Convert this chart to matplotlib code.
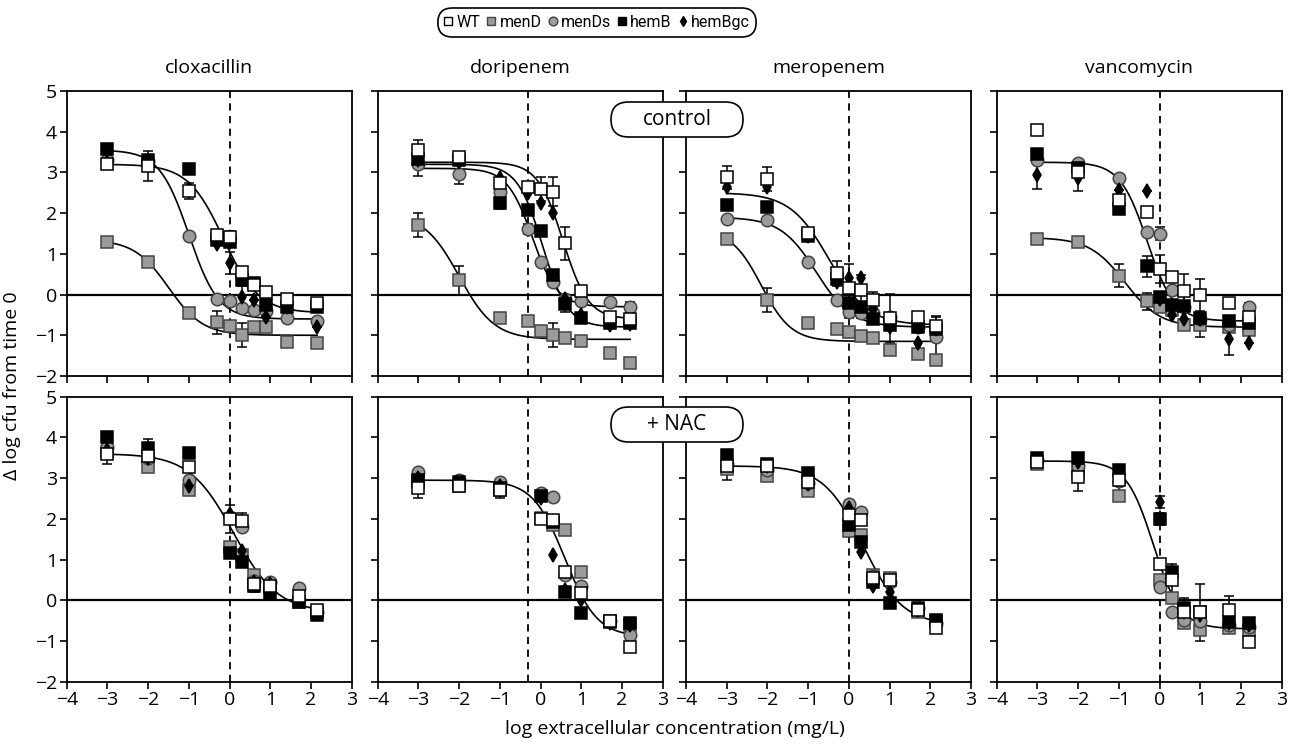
import numpy as np
import matplotlib
matplotlib.use("Agg")
import matplotlib.pyplot as plt
from matplotlib.patches import FancyBboxPatch
from matplotlib.lines import Line2D

plt.rcParams["font.family"] = ["Open Sans", "DejaVu Sans"]
plt.rcParams["axes.unicode_minus"] = True

series = ["WT", "menD", "menDs", "hemB", "hemBgc"]
drugs = ["cloxacillin", "doripenem", "meropenem", "vancomycin"]
mic_line = [0.0, -0.3, 0.0, 0.0]   # dashed vertical line per drug

# ---------------- cloxacillin ----------------
clox_ctrl_x = [-3, -2, -1, -0.3, 0, 0.3, 0.6, 0.9, 1.4, 2.15]
clox_ctrl = {
    "WT":     [3.2, 3.15, 2.55, 1.47, 1.42, 0.55, 0.24, 0.07, -0.1, -0.2],
    "menD":   [1.3, 0.8, -0.46, -0.68, -0.76, -0.99, -0.8, -0.8, -1.16, -1.18],
    "menDs":  [3.3, 3.28, 1.45, -0.1, -0.15, -0.34, -0.38, -0.4, -0.58, -0.66],
    "hemB":   [3.58, 3.31, 3.08, 1.35, 1.3, 0.37, 0.28, -0.25, -0.3, -0.31],
    "hemBgc": [3.25, 3.2, 2.6, 1.25, 0.77, -0.05, -0.13, -0.56, -0.3, -0.79],
}
clox_ctrl_err = {
    "WT":     [0, 0.37, 0.2, 0, 0.15, 0, 0, 0, 0, 0],
    "menD":   [0, 0, 0, 0.28, 0, 0.3, 0, 0, 0, 0],
    "hemBgc": [0, 0, 0, 0, 0.27, 0.25, 0, 0, 0, 0],
}
clox_ctrl_fit = [(3.2, -0.45, -0.15, 1.0), (3.55, -0.6, -1.0, 1.2), (1.35, -1.0, -1.5, 1.03)]

clox_nac_x = [-3, -2, -1, 0, 0.3, 0.6, 1.0, 1.7, 2.15]
clox_nac = {
    "WT":     [3.6, 3.55, 3.28, 2.0, 1.95, 0.4, 0.35, 0.1, -0.25],
    "menD":   [3.65, 3.28, 2.71, 1.3, 1.1, 0.62, 0.3, -0.05, -0.3],
    "menDs":  [3.77, 3.5, 2.95, 2.05, 1.8, 0.48, 0.45, 0.3, -0.3],
    "hemB":   [4.02, 3.75, 3.61, 1.15, 0.95, 0.35, 0.15, -0.05, -0.35],
    "hemBgc": [3.7, 3.5, 2.8, 2.13, 1.2, 0.45, 0.4, 0.0, -0.3],
}
clox_nac_err = {
    "WT":   [0.25, 0.2, 0, 0.35, 0.2, 0.2, 0, 0, 0],
    "hemB": [0.12, 0.2, 0, 0, 0, 0, 0, 0, 0],
}
clox_nac_fit = [(3.6, -0.3, 0.1, 0.8)]

# ---------------- doripenem ----------------
dori_ctrl_x = [-3, -2, -1, -0.3, 0, 0.3, 0.6, 1.0, 1.7, 2.2]
dori_ctrl = {
    "WT":     [3.55, 3.37, 2.74, 2.64, 2.6, 2.53, 1.26, 0.1, -0.56, -0.6],
    "menD":   [1.71, 0.35, -0.58, -0.64, -0.89, -0.99, -1.07, -1.13, -1.44, -1.69],
    "menDs":  [3.21, 2.96, 2.51, 1.61, 0.81, 0.32, -0.12, -0.15, -0.19, -0.31],
    "hemB":   [3.33, 3.3, 2.26, 2.08, 1.57, 0.48, -0.23, -0.58, -0.7, -0.7],
    "hemBgc": [3.3, 3.25, 2.86, 2.49, 2.25, 2.0, -0.1, -0.5, -0.74, -0.72],
}
dori_ctrl_err = {
    "WT":    [0.25, 0.08, 0, 0, 0.3, 0.35, 0.4, 0, 0, 0.15],
    "menD":  [0.3, 0.35, 0, 0.1, 0, 0.3, 0, 0, 0.1, 0],
    "menDs": [0.3, 0.25, 0, 0.12, 0, 0, 0, 0, 0, 0.12],
    "hemB":  [0, 0, 0.15, 0, 0, 0, 0.2, 0.12, 0.1, 0.1],
}
dori_ctrl_fit = [(3.25, -0.6, 0.55, 1.4), (3.1, -0.3, -0.2, 1.4), (3.2, -0.8, 0.05, 1.4),
                 (2.0, -1.1, -2.0, 1.0)]

dori_nac_x = [-3, -2, -1, 0, 0.3, 0.6, 1.0, 1.7, 2.2]
dori_nac = {
    "WT":     [2.75, 2.8, 2.7, 2.0, 1.97, 0.7, 0.17, -0.5, -1.14],
    "menD":   [2.9, 2.8, 2.7, 2.01, 1.85, 1.72, 0.7, -0.5, -0.6],
    "menDs":  [3.16, 2.95, 2.91, 2.63, 2.53, 0.62, 0.35, -0.5, -0.85],
    "hemB":   [2.95, 2.9, 2.75, 2.55, 1.93, 0.2, -0.32, -0.53, -0.57],
    "hemBgc": [3.0, 2.85, 2.8, 2.5, 1.11, 0.25, 0.0, -0.55, -0.6],
}
dori_nac_err = {
    "WT": [0.25, 0.12, 0.18, 0, 0.1, 0.1, 0.15, 0.1, 0.1],
}
dori_nac_fit = [(2.95, -0.9, 0.6, 1.1)]

# ---------------- meropenem ----------------
mero_ctrl_x = [-3, -2, -1, -0.3, 0, 0.3, 0.6, 1.0, 1.7, 2.15]
mero_ctrl = {
    "WT":     [2.88, 2.84, 1.51, 0.52, 0.16, 0.12, -0.13, -0.58, -0.56, -0.77],
    "menD":   [1.37, -0.13, -0.7, -0.85, -0.91, -1.01, -1.07, -1.36, -1.46, -1.6],
    "menDs":  [1.86, 1.84, 0.79, -0.13, -0.42, -0.46, -0.46, -0.55, -0.79, -1.05],
    "hemB":   [2.19, 2.16, 1.45, 0.38, -0.2, -0.3, -0.6, -0.75, -0.8, -0.85],
    "hemBgc": [2.65, 2.65, 1.45, 0.3, 0.4, 0.4, -0.35, -0.8, -1.18, -0.85],
}
mero_ctrl_err = {
    "WT":    [0.28, 0.3, 0.08, 0.3, 0.6, 0.35, 0.2, 0.6, 0.1, 0.25],
    "menD":  [0, 0.3, 0, 0, 0, 0, 0, 0, 0, 0],
    "menDs": [0, 0, 0.1, 0, 0.15, 0.12, 0, 0, 0, 0.5],
}
mero_ctrl_fit = [(2.5, -0.75, -0.49, 0.91), (1.9, -0.8, -0.8, 0.99), (1.6, -1.15, -2.15, 1.18)]

mero_nac_x = [-3, -2, -1, 0, 0.3, 0.6, 1.0, 1.7, 2.15]
mero_nac = {
    "WT":     [3.3, 3.3, 2.9, 2.1, 1.97, 0.55, 0.5, -0.25, -0.68],
    "menD":   [3.22, 3.06, 2.69, 1.71, 1.6, 0.62, 0.54, -0.3, -0.5],
    "menDs":  [3.35, 3.2, 2.87, 2.36, 2.16, 0.6, 0.45, -0.2, -0.55],
    "hemB":   [3.57, 3.34, 3.12, 1.85, 1.42, 0.45, -0.07, -0.2, -0.49],
    "hemBgc": [3.4, 3.3, 2.85, 2.26, 1.19, 0.35, 0.2, -0.25, -0.55],
}
mero_nac_err = {
    "WT": [0.35, 0.1, 0.1, 0.1, 0.08, 0.15, 0.1, 0.15, 0.1],
}
mero_nac_fit = [(3.3, -0.6, 0.35, 0.9)]

# ---------------- vancomycin ----------------
vanc_ctrl_x = [-3, -2, -1, -0.3, 0, 0.3, 0.6, 1.0, 1.7, 2.2]
vanc_ctrl = {
    "WT":     [4.03, 3.02, 2.33, 2.02, 0.63, 0.42, 0.1, -0.01, -0.2, -0.54],
    "menD":   [1.36, 1.29, 0.46, -0.17, -0.3, -0.38, -0.74, -0.75, -0.8, -0.87],
    "menDs":  [3.31, 3.23, 2.86, 1.53, 1.5, 0.12, -0.3, -0.6, -0.75, -0.31],
    "hemB":   [3.45, 3.1, 2.1, 0.69, -0.05, -0.25, -0.29, -0.58, -0.66, -0.7],
    "hemBgc": [2.94, 2.86, 2.57, 2.55, -0.1, -0.5, -0.6, -0.6, -1.09, -1.19],
}
vanc_ctrl_err = {
    "WT":     [0, 0, 0, 0.1, 0.35, 0, 0.4, 0.4, 0.1, 0.1],
    "menD":   [0, 0, 0.28, 0.2, 0, 0.15, 0, 0.3, 0, 0],
    "menDs":  [0, 0, 0, 0, 0.15, 0, 0, 0, 0, 0.1],
    "hemB":   [0, 0, 0, 0.25, 0, 0, 0.3, 0, 0, 0],
    "hemBgc": [0.35, 0.32, 0, 0, 0, 0, 0, 0, 0.4, 0],
}
vanc_ctrl_fit = [(3.25, -0.65, -0.3, 1.3), (1.4, -0.8, -0.85, 1.0)]

vanc_nac_x = [-3, -2, -1, 0, 0.3, 0.6, 1.0, 1.7, 2.2]
vanc_nac = {
    "WT":     [3.4, 3.04, 2.95, 0.9, 0.5, -0.3, -0.3, -0.24, -1.02],
    "menD":   [3.35, 3.16, 2.57, 0.5, 0.05, -0.57, -0.73, -0.69, -0.73],
    "menDs":  [3.45, 3.3, 2.94, 0.33, -0.28, -0.49, -0.5, -0.6, -0.65],
    "hemB":   [3.5, 3.49, 3.2, 1.99, 0.7, -0.19, -0.28, -0.53, -0.57],
    "hemBgc": [3.45, 3.4, 3.0, 2.42, 0.5, -0.3, -0.35, -0.55, -0.6],
}
vanc_nac_err = {
    "WT":     [0.1, 0.35, 0.3, 0, 0.4, 0.35, 0.7, 0.35, 0.1],
    "hemB":   [0, 0, 0, 0.15, 0, 0, 0, 0, 0],
    "hemBgc": [0, 0, 0, 0.15, 0, 0, 0, 0, 0],
}
vanc_nac_fit = [(3.42, -0.7, -0.15, 1.3)]

rows = [
    [(clox_ctrl_x, clox_ctrl, clox_ctrl_err, clox_ctrl_fit),
     (dori_ctrl_x, dori_ctrl, dori_ctrl_err, dori_ctrl_fit),
     (mero_ctrl_x, mero_ctrl, mero_ctrl_err, mero_ctrl_fit),
     (vanc_ctrl_x, vanc_ctrl, vanc_ctrl_err, vanc_ctrl_fit)],
    [(clox_nac_x, clox_nac, clox_nac_err, clox_nac_fit),
     (dori_nac_x, dori_nac, dori_nac_err, dori_nac_fit),
     (mero_nac_x, mero_nac, mero_nac_err, mero_nac_fit),
     (vanc_nac_x, vanc_nac, vanc_nac_err, vanc_nac_fit)],
]

GREY = "#9b9b9b"
styles = {
    "WT":     dict(marker="s", mfc="white", mec="black", ms=8.5),
    "menD":   dict(marker="s", mfc=GREY, mec="#444444", ms=8.5),
    "menDs":  dict(marker="o", mfc=GREY, mec="#444444", ms=9),
    "hemB":   dict(marker="s", mfc="black", mec="black", ms=8.5),
    "hemBgc": dict(marker="d", mfc="black", mec="black", ms=7.5),
}
draw_order = ["menD", "menDs", "hemB", "hemBgc", "WT"]


def hill(x, top, bottom, logec50, slope):
    return bottom + (top - bottom) / (1 + 10 ** ((x - logec50) * slope))


W, H = 1295, 746
fig = plt.figure(figsize=(W / 100, H / 100), dpi=100)

lefts = [66.7, 377.7, 686.0, 996.7]
pw = 285.0
tops = [91.0, 396.7]
ph = 285.0

for r, row in enumerate(rows):
    for c, (xs, ys, errs, fits) in enumerate(row):
        ax = fig.add_axes([lefts[c] / W, 1 - (tops[r] + ph) / H, pw / W, ph / H])
        ax.set_xlim(-4, 3)
        ax.set_ylim(-2, 5)
        ax.axhline(0, color="black", lw=1.6, zorder=1)
        ax.axvline(mic_line[c], color="black", lw=1.3, ls=(0, (4, 3)), zorder=1)

        xx = np.linspace(xs[0], xs[-1], 200)
        for top, bottom, ec, h in fits:
            ax.plot(xx, hill(xx, top, bottom, ec, h), color="black", lw=1.2, zorder=2)

        for s in draw_order:
            e = errs.get(s)
            if e is not None:
                ax.errorbar(xs, ys[s], yerr=e, fmt="none", ecolor="black",
                            elinewidth=1.1, capsize=3.5, capthick=1.1, zorder=3)
        for s in draw_order:
            st = styles[s]
            ax.plot(xs, ys[s], ls="none", marker=st["marker"], ms=st["ms"],
                    mfc=st["mfc"], mec=st["mec"], mew=1.1, zorder=4)

        ax.set_xticks(range(-4, 4))
        ax.set_yticks(range(-2, 6))
        ax.tick_params(direction="out", length=5, width=1.2, labelsize=14, pad=2)
        for sp in ax.spines.values():
            sp.set_linewidth(1.3)
        if c != 0:
            ax.set_yticklabels([])
        if r == 0:
            ax.set_xticklabels([])
            fig.text((lefts[c] + pw / 2) / W, 1 - 68 / H, drugs[c],
                     ha="center", va="center", fontsize=14)

# condition labels in pill-shaped boxes
for label, ytop in [("control", 102), ("+ NAC", 407)]:
    box = FancyBboxPatch((611 / 100, (H - ytop - 35) / 100), 1.32, 0.35,
                         boxstyle="round,pad=0,rounding_size=0.175",
                         transform=fig.dpi_scale_trans, fc="white", ec="black",
                         lw=1.2, zorder=10)
    fig.add_artist(box)
    fig.text(677 / W, 1 - (ytop + 17.5) / H, label, ha="center", va="center",
             fontsize=15, zorder=11)

# legend, then a pill-shaped frame fitted round it
handles = [Line2D([], [], ls="none", marker=styles[s]["marker"], ms=styles[s]["ms"] * 0.7,
                  mfc=styles[s]["mfc"], mec=styles[s]["mec"], mew=1.0) for s in series]
leg = fig.legend(handles, series, loc="center", bbox_to_anchor=(597 / W, 1 - 22.5 / H),
                 ncol=5, frameon=False, handlelength=0.5, handletextpad=0.25,
                 columnspacing=0.45, borderpad=0.1, borderaxespad=0,
                 prop=dict(family=["Roboto", "Open Sans"], size=11.5))
fig.canvas.draw()
bb = leg.get_window_extent(fig.canvas.get_renderer())
bh = 29.0
lbox = FancyBboxPatch(((bb.x0 - 5) / 100, (H - 22.5 - bh / 2) / 100),
                      (bb.width + 10) / 100, bh / 100,
                      boxstyle="round,pad=0,rounding_size=0.145",
                      transform=fig.dpi_scale_trans, fc="none", ec="black", lw=1.2)
fig.add_artist(lbox)

fig.text(12 / W, 1 - 386 / H, "Δ log cfu from time 0", rotation=90,
         ha="center", va="center", fontsize=14)
fig.text(675 / W, 1 - 729 / H, "log extracellular concentration (mg/L)",
         ha="center", va="center", fontsize=14)

fig.savefig("out.png", dpi=100)
